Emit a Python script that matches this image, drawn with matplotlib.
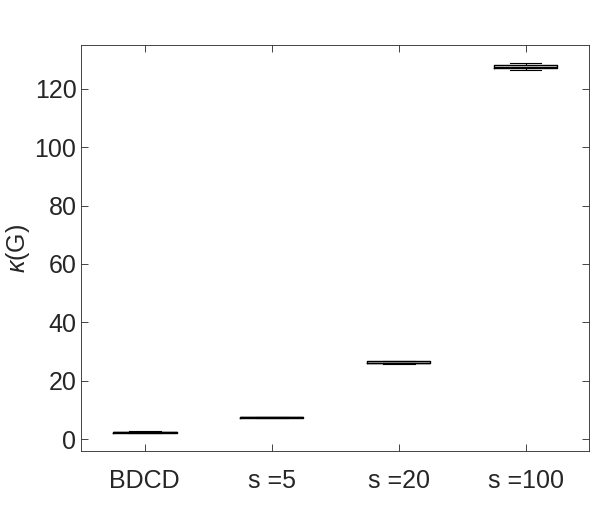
import matplotlib.pyplot as plt

plt.rcParams['font.family'] = ['Liberation Sans', 'DejaVu Sans']
plt.rcParams['mathtext.fontset'] = 'custom'
plt.rcParams['mathtext.it'] = 'Liberation Sans:italic'

labels = ["BDCD", "s =5", "s =20", "s =100"]
whis_lo = [2.0, 7.1, 25.6, 126.6]
q1 = [2.2, 7.3, 25.9, 127.2]
med = [2.3, 7.4, 26.2, 127.7]
q3 = [2.4, 7.5, 26.6, 128.2]
whis_hi = [2.6, 7.7, 26.9, 128.8]

stats = []
for i in range(len(labels)):
    stats.append({
        "label": labels[i],
        "whislo": whis_lo[i],
        "q1": q1[i],
        "med": med[i],
        "q3": q3[i],
        "whishi": whis_hi[i],
        "fliers": [],
    })

fig = plt.figure(figsize=(5.98, 5.14), dpi=100)
ax = fig.add_axes([0.136, 0.1226, 0.849, 0.79])

ax.bxp(stats, positions=range(1, 5), widths=0.5, showfliers=False,
       boxprops=dict(color='black', linewidth=1.0),
       medianprops=dict(color='black', linewidth=1.0),
       whiskerprops=dict(color='black', linewidth=0.8, linestyle='--'),
       capprops=dict(color='black', linewidth=0.8), capwidths=0.25)

ax.set_xlim(0.5, 4.5)
ax.set_ylim(-4.1, 135.1)
ax.set_yticks([0, 20, 40, 60, 80, 100, 120])
ax.set_xticks(range(1, 5))
ax.set_xticklabels(labels)
ax.tick_params(axis='both', direction='in', top=True, right=True,
               labelsize=18, colors='#262626', length=5, width=0.6)
for s in ax.spines.values():
    s.set_color('#262626')
    s.set_linewidth(0.6)
ax.set_ylabel(r"$\kappa$(G)", fontsize=18, color='#262626')
ax.yaxis.set_label_coords(-0.098, 0.5)
ax.tick_params(axis='x', pad=13)

plt.savefig("out.png", dpi=100)
plt.close()
